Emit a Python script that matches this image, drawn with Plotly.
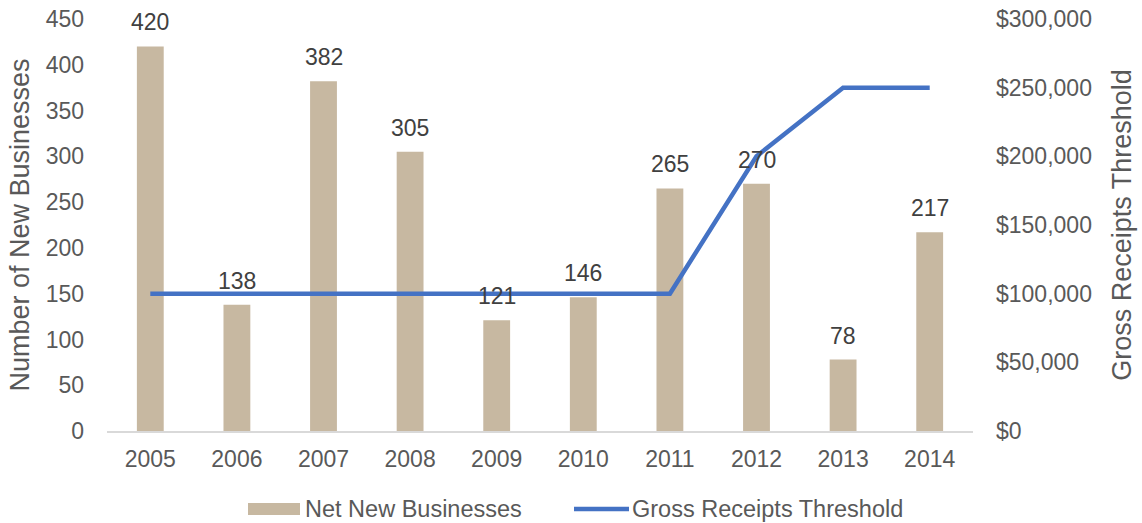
import plotly.graph_objects as go

years = ["2005", "2006", "2007", "2008", "2009", "2010", "2011", "2012", "2013", "2014"]
net_new_businesses = [420, 138, 382, 305, 121, 146, 265, 270, 78, 217]
receipts_threshold = [100000, 100000, 100000, 100000, 100000, 100000, 100000, 200000, 250000, 250000]

left_ticks = list(range(0, 451, 50))
right_ticks = list(range(0, 300001, 50000))
right_tick_text = ["$0"] + ["${:,}".format(v) for v in right_ticks[1:]]

BAR_COLOR = "#C7B8A1"
LINE_COLOR = "#4472C4"
AXIS_TEXT = "#595959"
LABEL_TEXT = "#404040"
FONT = "Liberation Sans, Arial, sans-serif"
TXT = 23

W, H = 1142, 523
M = dict(l=107, r=169, t=19, b=92, autoexpand=False)
plot_w = W - M["l"] - M["r"]
plot_h = H - M["t"] - M["b"]


def px_x(x):
    return (x - M["l"]) / plot_w


def px_y(y):
    return (H - M["b"] - y) / plot_h


fig = go.Figure()

fig.add_trace(go.Bar(
    x=years, y=net_new_businesses, name="Net New Businesses",
    marker=dict(color=BAR_COLOR, line=dict(width=0)),
    showlegend=False, hoverinfo="skip",
))

fig.add_trace(go.Scatter(
    x=years, y=receipts_threshold, name="Gross Receipts Threshold",
    yaxis="y2", mode="lines",
    line=dict(color=LINE_COLOR, width=4.5),
    showlegend=False, hoverinfo="skip",
))

# value labels above each bar (category index positions)
for i, v in enumerate(net_new_businesses):
    fig.add_annotation(
        x=i, y=v, xref="x", yref="y", text=str(v), showarrow=False,
        yanchor="bottom", yshift=9,
        font=dict(family=FONT, size=TXT, color=LABEL_TEXT),
    )

# legend row drawn below the axis
legend_y = px_y(509)
fig.add_shape(type="rect", xref="paper", yref="paper",
              x0=px_x(248), x1=px_x(300), y0=px_y(503), y1=px_y(515),
              fillcolor=BAR_COLOR, line=dict(width=0))
fig.add_annotation(x=px_x(303), y=legend_y, xref="paper", yref="paper",
                   text="Net New Businesses", showarrow=False,
                   xanchor="left", yanchor="middle",
                   font=dict(family=FONT, size=23.5, color=AXIS_TEXT))
fig.add_shape(type="line", xref="paper", yref="paper",
              x0=px_x(574), x1=px_x(629), y0=legend_y, y1=legend_y,
              line=dict(color=LINE_COLOR, width=4.5))
fig.add_annotation(x=px_x(630), y=legend_y, xref="paper", yref="paper",
                   text="Gross Receipts Threshold", showarrow=False,
                   xanchor="left", yanchor="middle",
                   font=dict(family=FONT, size=23.5, color=AXIS_TEXT))

fig.update_layout(
    width=W, height=H, margin=M,
    paper_bgcolor="white", plot_bgcolor="white",
    font=dict(family=FONT, size=TXT, color=AXIS_TEXT),
    bargap=0.69,
    showlegend=False,
    xaxis=dict(
        type="category", range=[-0.5, len(years) - 0.5], automargin=False,
        showgrid=False, zeroline=False,
        showline=True, linecolor="#D9D9D9", linewidth=2,
        ticks="", tickfont=dict(size=TXT, color=AXIS_TEXT),
        ticklabelstandoff=6,
    ),
    yaxis=dict(
        range=[0, 450], tickvals=left_ticks, automargin=False,
        showgrid=False, zeroline=False,
        showline=False, ticks="", tickfont=dict(size=TXT, color=AXIS_TEXT),
        ticklabelstandoff=22,
        title=dict(text="Number of New Businesses", standoff=8,
                   font=dict(size=27, color=AXIS_TEXT)),
    ),
    yaxis2=dict(
        range=[0, 300000], tickvals=right_ticks, ticktext=right_tick_text,
        automargin=False,
        overlaying="y", side="right", showgrid=False, zeroline=False,
        showline=False, ticks="", tickfont=dict(size=TXT, color=AXIS_TEXT),
        ticklabelstandoff=22,
        title=dict(text="Gross Receipts Threshold", standoff=21,
                   font=dict(size=27, color=AXIS_TEXT)),
    ),
)

fig.write_html("out.html")
